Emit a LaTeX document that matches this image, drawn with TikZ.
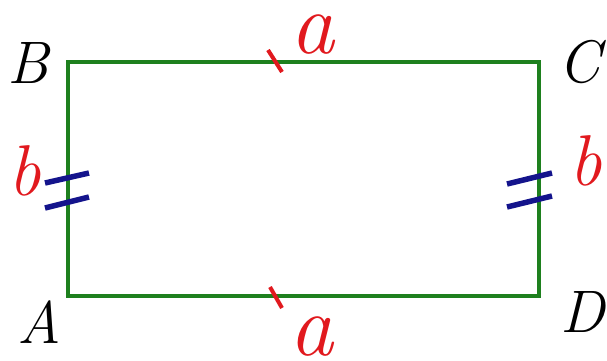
\documentclass[tikz,border=0pt]{standalone}
\definecolor{rgreen}{RGB}{30,128,30}
\definecolor{lred}{RGB}{225,25,30}
\definecolor{tblue}{RGB}{20,20,140}
\begin{document}
\begin{tikzpicture}[x=1pt,y=-1pt,
  vlabel/.style={inner sep=0pt,anchor=base,font=\fontsize{60}{60}\selectfont\itshape},
  alabel/.style={inner sep=0pt,anchor=base,text=lred,font=\fontsize{88}{88}\selectfont\itshape},
  blabel/.style={inner sep=0pt,anchor=base,text=lred,font=\fontsize{72}{72}\selectfont\itshape},
  side/.style={draw=rgreen,line width=3.5pt},
  onetick/.style={draw=lred,line width=4pt},
  twotick/.style={draw=tblue,line width=5.5pt}]
\useasboundingbox (0,0) rectangle (607,360);
\coordinate (A) at (68,296);
\coordinate (B) at (68,62);
\coordinate (C) at (539,62);
\coordinate (D) at (539,296);
\draw[side] (A) -- (B) -- (C) -- (D) -- cycle;
% ticks
\draw[onetick] (268,50) -- (282,72);
\draw[onetick] (270,287) -- (282,308);
\draw[twotick] (45,183) -- (89,173);
\draw[twotick] (45,208) -- (89,197);
\draw[twotick] (507,184) -- (552,173);
\draw[twotick] (507,207) -- (552,196);
% labels
\node[vlabel] (lB) at (28,83) {B};
\node[vlabel] (lC) at (579,82) {C};
\node[vlabel] (lA) at (39,343) {A};
\node[vlabel] (lD) at (583,332) {D};
\node[alabel] (la1) at (312,53) {a};
\node[alabel] (la2) at (311,355) {a};
\node[blabel] (lb1) at (25,195) {b};
\node[blabel] (lb2) at (586,185) {b};
\end{tikzpicture}
\end{document}
